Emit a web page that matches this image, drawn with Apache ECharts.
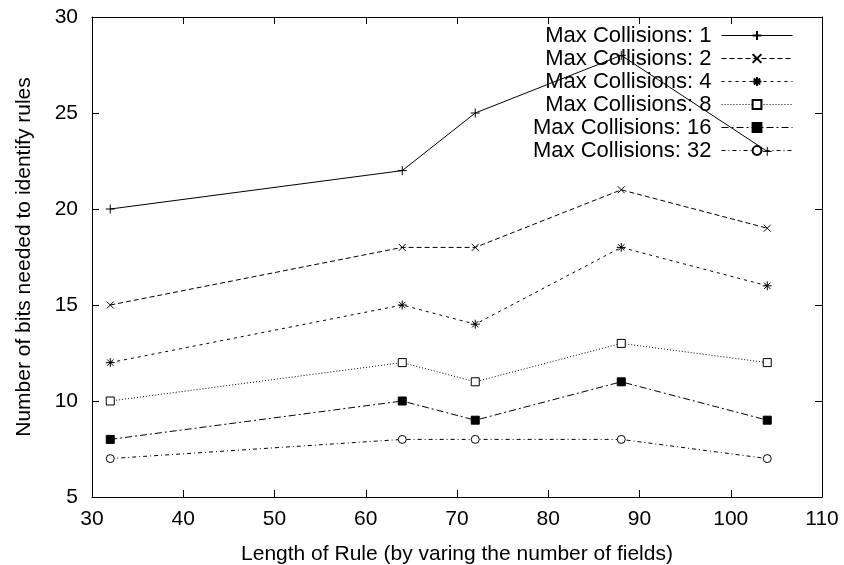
<!DOCTYPE html>
<html>
<head>
<meta charset="utf-8">
<script src="https://cdn.jsdelivr.net/npm/echarts@6/dist/echarts.min.js"></script>
<style>html,body{margin:0;padding:0;background:#fff;}#c{width:844px;height:565px;}</style>
</head>
<body>
<div id="c"></div>
<script>
const xValues = [32, 64, 72, 88, 104];
const maxColl1 = [20, 22, 25, 28, 23];
const maxColl2 = [15, 18, 18, 21, 19];
const maxColl4 = [12, 15, 14, 18, 16];
const maxColl8 = [10, 12, 11, 13, 12];
const maxColl16 = [8, 10, 9, 11, 9];
const maxColl32 = [7, 8, 8, 8, 7];
const seriesNames = ['Max Collisions: 1','Max Collisions: 2','Max Collisions: 4','Max Collisions: 8','Max Collisions: 16','Max Collisions: 32'];
const xTicks = [30, 40, 50, 60, 70, 80, 90, 100, 110];
const yTicks = [5, 10, 15, 20, 25, 30];

const FONT = "'Liberation Sans', Arial, Helvetica, sans-serif";
const allVals = [maxColl1, maxColl2, maxColl4, maxColl8, maxColl16, maxColl32];
const styles = [
  {symbol:'path://M5,0L5,10M0,5L10,5', size:9, fill:'#000', dash:'solid'},
  {symbol:'path://M0,0L10,10M10,0L0,10', size:7, fill:'#000', dash:[5,3]},
  {symbol:'path://M5,0L5,10M0,5L10,5M1.5,1.5L8.5,8.5M8.5,1.5L1.5,8.5', size:9, fill:'#000', dash:[3,4]},
  {symbol:'rect', size:8, fill:'#fff', dash:[1,2]},
  {symbol:'rect', size:8, fill:'#000', dash:[7,3,2,3]},
  {symbol:'circle', size:8, fill:'#fff', dash:[4,3,1,3]}
];

const series = allVals.map((vals, i) => ({
  name: seriesNames[i],
  type: 'line',
  xAxisIndex: 0,
  yAxisIndex: 0,
  data: xValues.map((x, j) => [x, vals[j]]),
  symbol: styles[i].symbol,
  symbolSize: styles[i].size,
  showAllSymbol: true,
  animation: false,
  color: '#000',
  lineStyle: {color:'#000', width:1, type: styles[i].dash},
  itemStyle: {color: styles[i].fill, borderColor:'#000', borderWidth:1}
}));

const axisCommon = {
  axisLine: {show:true, onZero:false, lineStyle:{color:'#000', width:1}},
  axisTick: {show:true, inside:true, length:7, lineStyle:{color:'#000', width:1}},
  splitLine: {show:false}
};

const chart = echarts.init(document.getElementById('c'));
chart.setOption({
  backgroundColor: '#fff',
  animation: false,
  grid: {left:92, right:22, top:17, bottom:68, containLabel:false, outerBoundsMode:'none'},
  legend: {
    orient: 'vertical',
    align: 'right',
    right: 51,
    top: 24,
    padding: 0,
    itemGap: 0,
    itemWidth: 71,
    itemHeight: 11,
    lineStyle: {width: 1},
    textStyle: {fontFamily: FONT, fontSize: 22, color:'#000', lineHeight: 23, padding:[0,5,0,0]},
    data: seriesNames
  },
  xAxis: [
    Object.assign({type:'value', position:'bottom', min:xTicks[0], max:xTicks[xTicks.length-1], interval:10,
      name:'Length of Rule (by varing the number of fields)', nameLocation:'middle', nameGap:47,
      nameTextStyle:{fontFamily:FONT, fontSize:21, color:'#000'},
      axisLabel:{fontFamily:FONT, fontSize:21, color:'#000', margin:12}}, axisCommon),
    Object.assign({type:'value', position:'top', min:xTicks[0], max:xTicks[xTicks.length-1], interval:10,
      axisLabel:{show:false}}, axisCommon)
  ],
  yAxis: [
    Object.assign({type:'value', position:'left', min:yTicks[0], max:yTicks[yTicks.length-1], interval:5,
      name:'Number of bits needed to identify rules', nameLocation:'middle', nameGap:57,
      nameTextStyle:{fontFamily:FONT, fontSize:21, color:'#000'},
      axisLabel:{fontFamily:FONT, fontSize:21, color:'#000', margin:14}}, axisCommon),
    Object.assign({type:'value', position:'right', min:yTicks[0], max:yTicks[yTicks.length-1], interval:5,
      axisLabel:{show:false}}, axisCommon)
  ],
  series: series
});
</script>
</body>
</html>
